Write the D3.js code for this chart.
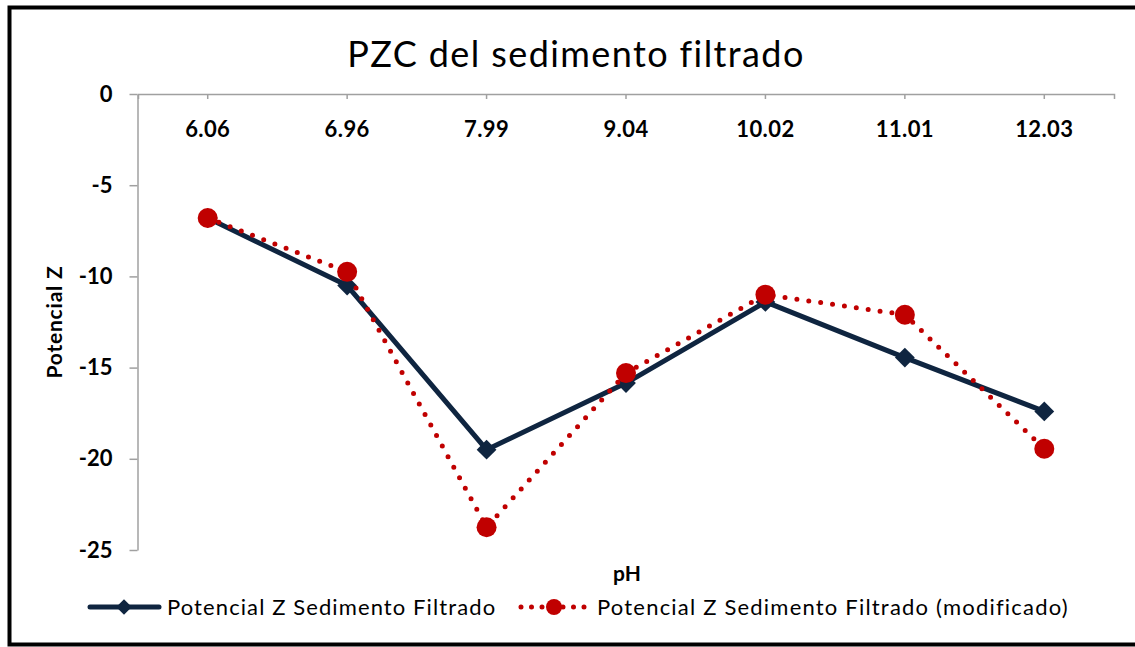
<!DOCTYPE html>
<html>
<head>
<meta charset="utf-8">
<script src="https://cdn.jsdelivr.net/npm/d3@7"></script>
<style>
  html, body { margin: 0; padding: 0; background: #fff; }
  svg { display: block; }
</style>
</head>
<body>
<svg id="chart" width="1135" height="647"></svg>
<script>
// pH categories and zeta potential readings
const categories = ["6.06", "6.96", "7.99", "9.04", "10.02", "11.01", "12.03"];
const seriesFiltrado = [-6.8, -10.5, -19.5, -15.85, -11.4, -14.45, -17.4];
const seriesModificado = [-6.8, -9.75, -23.75, -15.3, -11.0, -12.1, -19.45];
const yTicks = [0, -5, -10, -15, -20, -25];
const seriesNames = ["Potencial Z Sedimento Filtrado", "Potencial Z Sedimento Filtrado (modificado)"];

const navy = "#0f2540";
const red = "#c00000";
const axisGray = "#a0a0a0";
const font = "Lato, 'Open Sans', sans-serif";

const svg = d3.select("#chart");

// outer frame
svg.append("rect")
  .attr("x", 9.5).attr("y", 7.5)
  .attr("width", 1140).attr("height", 637)
  .attr("fill", "none").attr("stroke", "#000").attr("stroke-width", 4);

const x = d3.scaleBand().domain(categories).range([138, 1114]);
const y = d3.scaleLinear().domain([-25, 0]).range([550, 94]);
const cx = c => x(c) + x.bandwidth() / 2;

// title
svg.append("text")
  .attr("x", 576).attr("y", 67)
  .attr("text-anchor", "middle")
  .attr("font-family", font).attr("font-size", 36)
  .attr("letter-spacing", 1.4)
  .attr("fill", "#000")
  .text("PZC del sedimento filtrado");

// y axis
const yAxis = svg.append("g")
  .attr("transform", "translate(137.5,0)")
  .call(d3.axisLeft(y).tickValues(yTicks).tickSize(8).tickSizeOuter(0).tickPadding(17).tickFormat(d3.format("d")));
yAxis.select(".domain").attr("stroke", axisGray).attr("stroke-width", 1.5);
yAxis.selectAll(".tick line").attr("stroke", axisGray).attr("stroke-width", 1.5);
yAxis.selectAll(".tick text")
  .attr("font-family", font).attr("font-size", 22).attr("font-weight", "bold").attr("fill", "#000")
  .text(d => d === 0 ? "0" : "-" + Math.abs(d));

// x axis along the zero line, labels beneath it
const xAxis = svg.append("g")
  .attr("transform", "translate(0," + y(0) + ")")
  .call(d3.axisBottom(x).tickSize(5).tickSizeOuter(5).tickPadding(22));
xAxis.select(".domain").attr("stroke", axisGray).attr("stroke-width", 1.5);
xAxis.selectAll(".tick line").attr("stroke", axisGray).attr("stroke-width", 1.5);
xAxis.selectAll(".tick text")
  .attr("font-family", font).attr("font-size", 22).attr("font-weight", "bold").attr("fill", "#000")
  .attr("letter-spacing", 0.4);

// axis titles
svg.append("text")
  .attr("transform", "translate(62,322) rotate(-90)")
  .attr("text-anchor", "middle")
  .attr("font-family", font).attr("font-size", 21).attr("font-weight", "bold")
  .attr("letter-spacing", 0.8)
  .text("Potencial Z");

svg.append("text")
  .attr("x", 627).attr("y", 581)
  .attr("text-anchor", "middle")
  .attr("font-family", font).attr("font-size", 21).attr("font-weight", "bold")
  .text("pH");

const line = d3.line().x((d, i) => cx(categories[i])).y(d => y(d));

// series 1: solid navy with diamonds
svg.append("path")
  .datum(seriesFiltrado)
  .attr("d", line)
  .attr("fill", "none").attr("stroke", navy).attr("stroke-width", 5)
  .attr("stroke-linejoin", "round");
const diamond = d3.symbol().type(d3.symbolSquare).size(196);
svg.selectAll(".diamond")
  .data(seriesFiltrado)
  .join("path")
  .attr("class", "diamond")
  .attr("d", diamond)
  .attr("transform", (d, i) => `translate(${cx(categories[i])},${y(d)}) rotate(45)`)
  .attr("fill", navy);

// series 2: round-dotted red with circles
svg.append("path")
  .datum(seriesModificado)
  .attr("d", line)
  .attr("fill", "none").attr("stroke", red).attr("stroke-width", 5)
  .attr("stroke-linecap", "round").attr("stroke-dasharray", "0 12");
svg.selectAll(".dot")
  .data(seriesModificado)
  .join("circle")
  .attr("class", "dot")
  .attr("cx", (d, i) => cx(categories[i]))
  .attr("cy", d => y(d))
  .attr("r", 10)
  .attr("fill", red);

// legend
const lg = svg.append("g");
lg.append("line")
  .attr("x1", 90).attr("x2", 159).attr("y1", 607).attr("y2", 607)
  .attr("stroke", navy).attr("stroke-width", 5).attr("stroke-linecap", "round");
lg.append("path")
  .attr("d", d3.symbol().type(d3.symbolSquare).size(120))
  .attr("transform", "translate(124,607) rotate(45)")
  .attr("fill", navy);
lg.append("text")
  .attr("x", 167).attr("y", 615)
  .attr("font-family", font).attr("font-size", 22)
  .attr("letter-spacing", 1.1)
  .text(seriesNames[0]);

lg.append("line")
  .attr("x1", 521).attr("x2", 585).attr("y1", 607).attr("y2", 607)
  .attr("stroke", red).attr("stroke-width", 5)
  .attr("stroke-linecap", "round").attr("stroke-dasharray", "0 10.5");
lg.append("circle")
  .attr("cx", 554).attr("cy", 607).attr("r", 8)
  .attr("fill", red);
lg.append("text")
  .attr("x", 597).attr("y", 615)
  .attr("font-family", font).attr("font-size", 22)
  .attr("letter-spacing", 1.2)
  .text(seriesNames[1]);
</script>
</body>
</html>
